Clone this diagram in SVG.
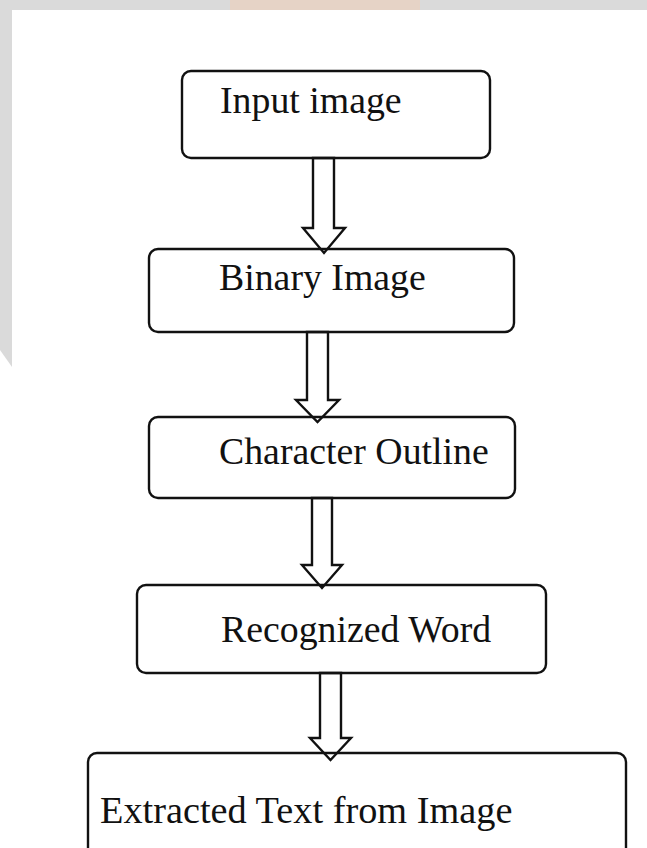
<svg xmlns="http://www.w3.org/2000/svg" width="647" height="848" viewBox="0 0 647 848">
  <style>
    .box { fill: #ffffff; stroke: #111111; stroke-width: 2.4; }
    .arrow { fill: none; stroke: #111111; stroke-width: 2.4; stroke-linejoin: miter; }
    .label { font-family: "Liberation Serif", "Times New Roman", serif; font-size: 37.8px; fill: #111111; }
  </style>
  <rect x="0" y="0" width="647" height="848" fill="#ffffff"/>
  <g id="background">
    <rect x="0" y="0" width="647" height="10" fill="#dadada"/>
    <rect x="230" y="0" width="190" height="10" fill="#e6d3c6"/>
    <polygon points="0,0 12,0 12,367 0,350" fill="#dadada"/>
  </g>
  <g id="node-input">
    <rect class="box" x="182" y="71" width="308" height="87" rx="9"/>
    <text class="label" x="220" y="113">Input image</text>
  </g>
  <g id="node-binary">
    <rect class="box" x="149" y="249" width="365" height="83" rx="9"/>
    <text class="label" x="219" y="290">Binary Image</text>
  </g>
  <g id="node-outline">
    <rect class="box" x="149" y="417" width="366" height="81" rx="9"/>
    <text class="label" x="219" y="464">Character Outline</text>
  </g>
  <g id="node-word">
    <rect class="box" x="137" y="585" width="409" height="88" rx="9"/>
    <text class="label" x="221" y="642">Recognized Word</text>
  </g>
  <g id="node-extracted">
    <rect class="box" x="88" y="753" width="538" height="110" rx="9"/>
    <text class="label" x="100" y="823" style="font-size:38.3px">Extracted Text from Image</text>
  </g>
  <g id="connectors">
    <polygon class="arrow" points="313,158 334,158 334,228 345,228 324,253 303,228 313,228"/>
    <polygon class="arrow" points="307,332 328,332 328,400 339,400 317.5,422 296,400 307,400"/>
    <polygon class="arrow" points="312,498 332,498 332,565 342,565 322,588 302,565 312,565"/>
    <polygon class="arrow" points="320,673 341,673 341,738 351,738 330.5,760 310,738 320,738"/>
  </g>
</svg>
